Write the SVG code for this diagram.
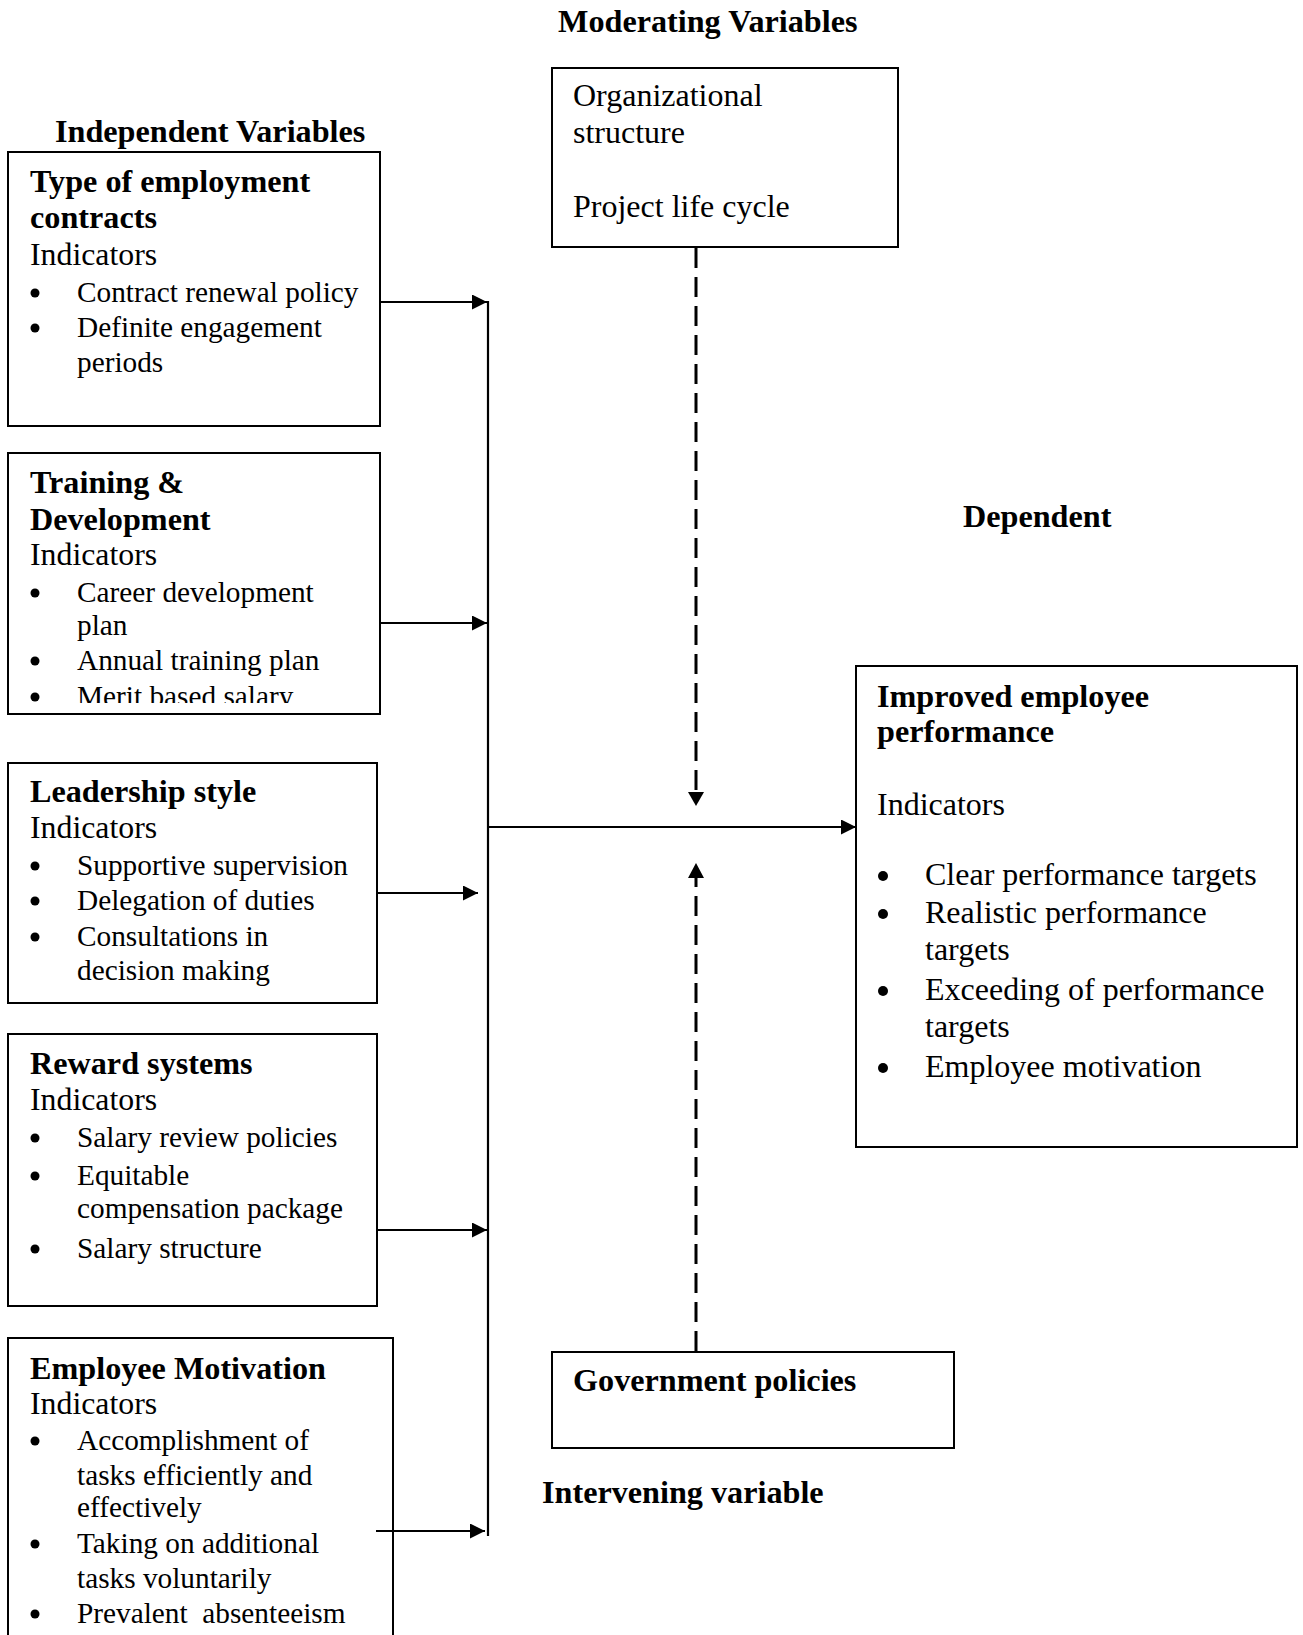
<svg xmlns="http://www.w3.org/2000/svg" width="1303" height="1635" viewBox="0 0 1303 1635">
<style>
text{font-family:"Liberation Serif","Times New Roman",serif;fill:#000}
.h{font-weight:bold;font-size:32.2px}
.t{font-size:31.8px}
.b{font-size:29.3px}
.r{font-size:32px}
.box{fill:#fff;stroke:#000;stroke-width:2}
.ln{stroke:#000;stroke-width:2.2;fill:none}
.dash{stroke:#000;stroke-width:3;fill:none;stroke-dasharray:20 9}
.dot{fill:#000}
</style>
<defs>
<marker id="ah" markerUnits="userSpaceOnUse" markerWidth="16" markerHeight="16" refX="15" refY="7.5" orient="auto">
<path d="M0,0 L15,7.5 L0,15 z" fill="#000"/>
</marker>
<clipPath id="clip2"><rect x="8" y="453" width="372" height="250"/></clipPath>
</defs>

<g id="labels">
<text class="h" x="558" y="32">Moderating Variables</text>
<text class="h" x="55" y="142">Independent Variables</text>
<text class="h" x="963" y="527">Dependent</text>
<text class="h" x="542" y="1503">Intervening variable</text>
</g>

<g id="node-moderating">
<rect class="box" x="552" y="68" width="346" height="179"/>
<text class="r" x="573" y="106">Organizational</text>
<text class="r" x="573" y="143">structure</text>
<text class="r" x="573" y="217">Project life cycle</text>
</g>

<g id="node-employment">
<rect class="box" x="8" y="152" width="372" height="274"/>
<text class="h" x="30" y="192">Type of employment</text>
<text class="h" x="30" y="228">contracts</text>
<text class="t" x="30" y="265">Indicators</text>
<circle class="dot" cx="35" cy="293" r="4.5"/><text class="b" x="77" y="302">Contract renewal policy</text>
<circle class="dot" cx="35" cy="328" r="4.5"/><text class="b" x="77" y="337">Definite engagement</text>
<text class="b" x="77" y="372">periods</text>
</g>

<g id="node-training">
<rect class="box" x="8" y="453" width="372" height="261"/>
<text class="h" x="30" y="493">Training &amp;</text>
<text class="h" x="30" y="530">Development</text>
<text class="t" x="30" y="565">Indicators</text>
<circle class="dot" cx="35" cy="593" r="4.5"/><text class="b" x="77" y="602">Career development</text>
<text class="b" x="77" y="635">plan</text>
<circle class="dot" cx="35" cy="661" r="4.5"/><text class="b" x="77" y="670">Annual training plan</text>
<g clip-path="url(#clip2)">
<circle class="dot" cx="35" cy="697" r="4.5"/><text class="b" x="77" y="706">Merit based salary</text>
</g>
</g>

<g id="node-leadership">
<rect class="box" x="8" y="763" width="369" height="240"/>
<text class="h" x="30" y="802">Leadership style</text>
<text class="t" x="30" y="838">Indicators</text>
<circle class="dot" cx="35" cy="866" r="4.5"/><text class="b" x="77" y="875">Supportive supervision</text>
<circle class="dot" cx="35" cy="901" r="4.5"/><text class="b" x="77" y="910">Delegation of duties</text>
<circle class="dot" cx="35" cy="937" r="4.5"/><text class="b" x="77" y="946">Consultations in</text>
<text class="b" x="77" y="980">decision making</text>
</g>

<g id="node-reward">
<rect class="box" x="8" y="1034" width="369" height="272"/>
<text class="h" x="30" y="1074">Reward systems</text>
<text class="t" x="30" y="1110">Indicators</text>
<circle class="dot" cx="35" cy="1138" r="4.5"/><text class="b" x="77" y="1147">Salary review policies</text>
<circle class="dot" cx="35" cy="1176" r="4.5"/><text class="b" x="77" y="1185">Equitable</text>
<text class="b" x="77" y="1218">compensation package</text>
<circle class="dot" cx="35" cy="1249" r="4.5"/><text class="b" x="77" y="1258">Salary structure</text>
</g>

<g id="node-motivation">
<rect class="box" x="8" y="1338" width="385" height="310"/>
<text class="h" x="30" y="1379">Employee Motivation</text>
<text class="t" x="30" y="1414">Indicators</text>
<circle class="dot" cx="35" cy="1441" r="4.5"/><text class="b" x="77" y="1450">Accomplishment of</text>
<text class="b" x="77" y="1485">tasks efficiently and</text>
<text class="b" x="77" y="1517">effectively</text>
<circle class="dot" cx="35" cy="1544" r="4.5"/><text class="b" x="77" y="1553">Taking on additional</text>
<text class="b" x="77" y="1588">tasks voluntarily</text>
<circle class="dot" cx="35" cy="1614" r="4.5"/><text class="b" x="77" y="1623" xml:space="preserve">Prevalent  absenteeism</text>
</g>

<g id="node-dependent">
<rect class="box" x="856" y="666" width="441" height="481"/>
<text class="h" x="877" y="707">Improved employee</text>
<text class="h" x="877" y="742">performance</text>
<text class="r" x="877" y="815">Indicators</text>
<circle class="dot" cx="883" cy="876" r="5"/><text class="r" x="925" y="885">Clear performance targets</text>
<circle class="dot" cx="883" cy="914" r="5"/><text class="r" x="925" y="923">Realistic performance</text>
<text class="r" x="925" y="960">targets</text>
<circle class="dot" cx="883" cy="991" r="5"/><text class="r" x="925" y="1000">Exceeding of performance</text>
<text class="r" x="925" y="1037">targets</text>
<circle class="dot" cx="883" cy="1068" r="5"/><text class="r" x="925" y="1077">Employee motivation</text>
</g>

<g id="node-government">
<rect class="box" x="552" y="1352" width="402" height="96"/>
<text class="h" x="573" y="1391">Government policies</text>
</g>

<g id="connectors">
<line class="ln" x1="488" y1="301" x2="488" y2="1536"/>
<line class="ln" x1="380" y1="302" x2="487" y2="302" marker-end="url(#ah)"/>
<line class="ln" x1="380" y1="623" x2="487" y2="623" marker-end="url(#ah)"/>
<line class="ln" x1="377" y1="893" x2="478" y2="893" marker-end="url(#ah)"/>
<line class="ln" x1="377" y1="1230" x2="487" y2="1230" marker-end="url(#ah)"/>
<line class="ln" x1="376" y1="1531" x2="485" y2="1531" marker-end="url(#ah)"/>
<line class="ln" x1="488" y1="827" x2="856" y2="827" marker-end="url(#ah)"/>
<line class="dash" x1="696" y1="248" x2="696" y2="792"/>
<path d="M688,792 L704,792 L696,806 z" fill="#000"/>
<line class="dash" x1="696" y1="1351" x2="696" y2="878"/>
<path d="M688,878 L704,878 L696,863 z" fill="#000"/>
</g>
</svg>
